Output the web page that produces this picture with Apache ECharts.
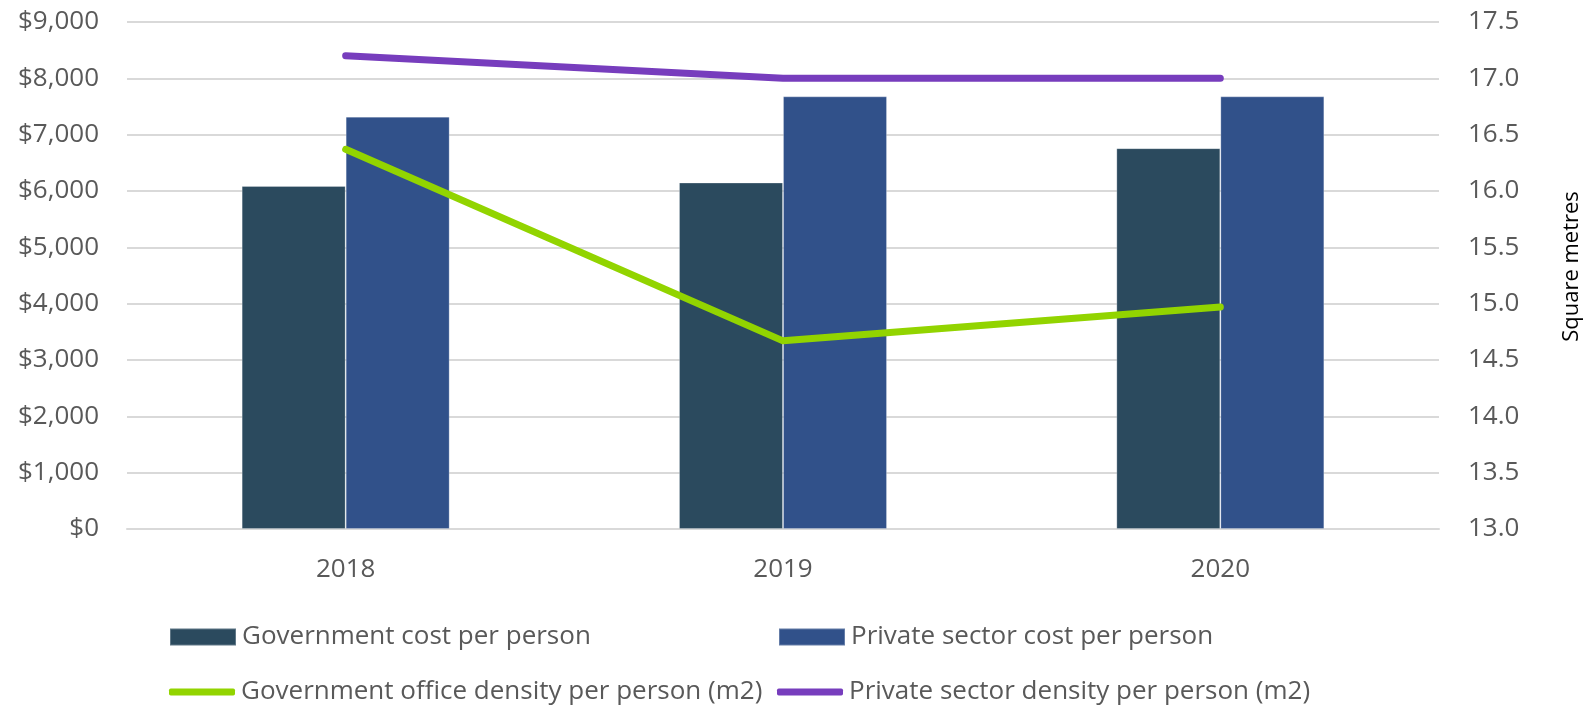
<!DOCTYPE html>
<html>
<head>
<meta charset="utf-8">
<script src="https://cdn.jsdelivr.net/npm/echarts@6/dist/echarts.min.js"></script>
<style>
html,body{margin:0;padding:0;background:#fff;}
#chart{width:1590px;height:708px;}
</style>
</head>
<body>
<div id="chart"></div>
<script>
const categories = ['2018', '2019', '2020'];
const govCost = [6090, 6150, 6760];
const privCost = [7320, 7680, 7680];
const govDensity = [16.37, 14.67, 14.97];
const privDensity = [17.2, 17.0, 17.0];
const seriesNames = [
  'Government cost per person',
  'Private sector cost per person',
  'Government office density per person (m2)',
  'Private sector density per person (m2)'
];
const rightAxisName = 'Square metres';

const FONT = '"Open Sans", sans-serif';
const TXT = '#595959';
const GRID = '#D9D9D9';
const colors = ['#2B4A5E', '#31518A', '#92D400', '#773DBD'];

function legendAt(name, left, top, isLine) {
  return {
    data: [name],
    left: left,
    top: top,
    orient: 'horizontal',
    icon: isLine ? 'roundRect' : 'rect',
    itemWidth: 66,
    itemHeight: isLine ? 7 : 17,
    padding: 0,
    textStyle: { color: TXT, fontSize: 26, fontFamily: FONT, padding: [0, 0, 0, 1] },
    selectedMode: false
  };
}

const chart = echarts.init(document.getElementById('chart'));
chart.setOption({
  animation: false,
  color: colors,
  textStyle: { fontFamily: FONT },
  grid: { left: 127, right: 151, top: 22, bottom: 179, containLabel: false, outerBoundsMode: 'none' },
  legend: [
    legendAt(seriesNames[0], 169, 624, false),
    legendAt(seriesNames[1], 778, 624, false),
    legendAt(seriesNames[2], 169, 679, true),
    legendAt(seriesNames[3], 777, 679, true)
  ],
  xAxis: {
    type: 'category',
    data: categories,
    axisTick: { show: false },
    axisLine: { lineStyle: { color: GRID, width: 2 } },
    axisLabel: { color: TXT, fontSize: 26, fontFamily: FONT, margin: 28 }
  },
  yAxis: [
    {
      type: 'value', min: 0, max: 9000, interval: 1000,
      axisLine: { show: false }, axisTick: { show: false },
      splitLine: { lineStyle: { color: GRID, width: 2 } },
      axisLabel: {
        color: TXT, fontSize: 26, fontFamily: FONT, margin: 28,
        formatter: v => '$' + v.toLocaleString('en-US')
      }
    },
    {
      type: 'value', min: 13, max: 17.5, interval: 0.5,
      position: 'right',
      axisLine: { show: false }, axisTick: { show: false },
      splitLine: { show: false },
      axisLabel: {
        color: TXT, fontSize: 26, fontFamily: FONT, margin: 29,
        formatter: v => v.toFixed(1)
      },
      name: rightAxisName,
      nameLocation: 'middle',
      nameRotate: 90,
      nameGap: 122,
      nameTextStyle: { color: '#000', fontSize: 22, fontFamily: FONT, padding: [0, 0, 0, 18] }
    }
  ],
  series: [
    {
      name: seriesNames[0], type: 'bar', yAxisIndex: 0, data: govCost,
      barWidth: 104, barGap: '0%',
      itemStyle: { color: colors[0], borderColor: 'rgba(255,255,255,0.25)', borderWidth: 1 }
    },
    {
      name: seriesNames[1], type: 'bar', yAxisIndex: 0, data: privCost,
      barWidth: 104, barGap: '0%',
      itemStyle: { color: colors[1], borderColor: 'rgba(255,255,255,0.25)', borderWidth: 1 }
    },
    {
      name: seriesNames[2], type: 'line', yAxisIndex: 1, data: govDensity,
      showSymbol: false, symbol: 'none',
      lineStyle: { color: colors[2], width: 7, cap: 'round', join: 'round' },
      itemStyle: { color: colors[2] }
    },
    {
      name: seriesNames[3], type: 'line', yAxisIndex: 1, data: privDensity,
      showSymbol: false, symbol: 'none',
      lineStyle: { color: colors[3], width: 7, cap: 'round', join: 'round' },
      itemStyle: { color: colors[3] }
    }
  ]
});
</script>
</body>
</html>
